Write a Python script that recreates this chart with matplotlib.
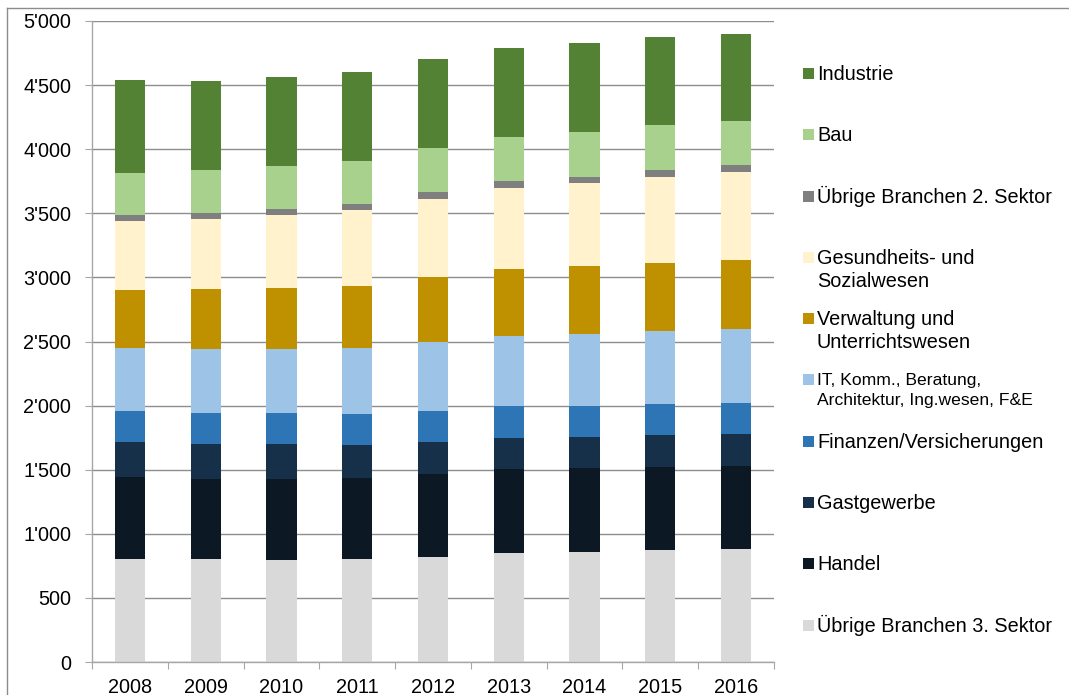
import numpy as np
import matplotlib
matplotlib.use("Agg")
import matplotlib.pyplot as plt
from matplotlib.patches import Rectangle
from matplotlib.lines import Line2D
from matplotlib.ticker import FuncFormatter

plt.rcParams["font.family"] = ["Liberation Sans", "DejaVu Sans"]

years = ["2008", "2009", "2010", "2011", "2012", "2013", "2014", "2015", "2016"]

# stacked from bottom to top
uebrige3 = [801, 801, 793, 801, 821, 853, 855, 871, 881]
handel = [640, 629, 637, 637, 648, 652, 656, 648, 650]
gastgewerbe = [278, 273, 273, 257, 250, 245, 247, 252, 250]
finanzen = [237, 239, 239, 240, 241, 244, 239, 244, 239]
it_komm = [491, 500, 500, 515, 534, 551, 564, 567, 575]
verwaltung = [455, 465, 478, 485, 507, 523, 530, 533, 541]
gesundheit = [538, 551, 567, 591, 613, 632, 643, 671, 689]
uebrige2 = [47, 47, 46, 49, 52, 49, 52, 54, 52]
bau = [327, 330, 336, 333, 341, 348, 348, 349, 345]
industrie = [726, 699, 691, 696, 696, 690, 691, 689, 677]

series = [uebrige3, handel, gastgewerbe, finanzen, it_komm,
          verwaltung, gesundheit, uebrige2, bau, industrie]
names = ["Übrige Branchen 3. Sektor", "Handel", "Gastgewerbe",
         "Finanzen/Versicherungen",
         "IT, Komm., Beratung,\nArchitektur, Ing.wesen, F&E",
         "Verwaltung und\nUnterrichtswesen", "Gesundheits- und\nSozialwesen",
         "Übrige Branchen 2. Sektor", "Bau", "Industrie"]
colors = ["#D9D9D9", "#0C1823", "#17304A", "#2E75B6", "#9DC3E6",
          "#BF9000", "#FFF2CC", "#7F7F7F", "#A9D18E", "#548235"]

W, H = 1069, 695
fig = plt.figure(figsize=(W / 100, H / 100), dpi=100)
ax = fig.add_axes([92 / W, 1 - 662 / H, (774 - 92) / W, (662 - 21) / H])

x = np.arange(len(years))
bottom = np.zeros(len(years))
for vals, col in zip(series, colors):
    ax.bar(x, vals, 0.4, bottom=bottom, color=col, lw=0, zorder=3)
    bottom += np.array(vals)

ax.set_xlim(-0.5, len(years) - 0.5)
ax.set_ylim(0, 5000)
ax.set_yticks(np.arange(0, 5001, 500))
ax.yaxis.set_major_formatter(FuncFormatter(lambda v, p: f"{v:,.0f}".replace(",", "'")))
ax.grid(axis="y", color="#8E8E8E", lw=1.0, zorder=0)

# category boundary ticks, labels at centres
ax.set_xticks(np.arange(-0.5, len(years), 1.0))
ax.set_xticklabels([])
ax.set_xticks(x, minor=True)
ax.set_xticklabels(years, minor=True)
ax.tick_params(axis="x", which="major", length=5, color="#A6A6A6", direction="out")
ax.tick_params(axis="x", which="minor", length=0, labelsize=14.3, pad=11.5)
ax.tick_params(axis="y", length=5, color="#A6A6A6", labelsize=14.3, pad=10)

for s in ["top", "right"]:
    ax.spines[s].set_visible(False)
for s in ["left", "bottom"]:
    ax.spines[s].set_color("#A6A6A6")
    ax.spines[s].set_linewidth(1.0)
    ax.spines[s].set_zorder(4)

# legend, top entry = top of stack; marker next to first line
for i, (name, col) in enumerate(zip(names[::-1], colors[::-1])):
    yc = 73 + 61.3 * i
    small = name.startswith("IT")
    fs = 12.6 if small else 14.3
    step = 20 if small else 23
    fig.add_artist(Rectangle((803 / W, 1 - (yc + 6) / H), 11 / W, 11 / H,
                             transform=fig.transFigure, color=col, lw=0))
    for k, line in enumerate(name.split("\n")):
        base = yc + (6 if small else 7) + k * step
        fig.text(817 / W, 1 - base / H, line, fontsize=fs,
                 va="baseline", ha="left", color="black")

# outer chart border
fig.add_artist(Line2D([7 / W, 1.0], [1 - 8 / H, 1 - 8 / H], transform=fig.transFigure,
                      color="#8C8C8C", lw=1.0))
fig.add_artist(Line2D([7 / W, 7 / W], [0, 1 - 8 / H], transform=fig.transFigure,
                      color="#8C8C8C", lw=1.0))

fig.savefig("out.png", dpi=100)
